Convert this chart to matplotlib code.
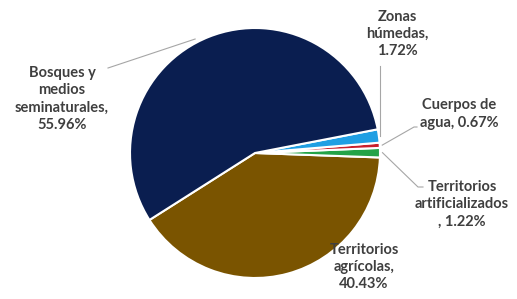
import numpy as np
import matplotlib
matplotlib.use("Agg")
import matplotlib.pyplot as plt

# datos (orden de dibujo, antihorario desde el borde inferior izquierdo)
labels = ["Territorios\nagrícolas,\n40.43%",
          "Territorios\nartificializados\n, 1.22%",
          "Cuerpos de\nagua, 0.67%",
          "Zonas\nhúmedas,\n1.72%",
          "Bosques y\nmedios\nseminaturales,\n55.96%"]
values = [40.43, 1.22, 0.67, 1.72, 55.96]
colors = ["#7a5400", "#23a347", "#c8202c", "#1f9fe3", "#0a1e50"]

W, H = 517, 299
fig = plt.figure(figsize=(W / 100, H / 100), dpi=100)
ax = fig.add_axes([0, 0, 1, 1])

cx, cy, r = 255, H - 153, 125
wedges, _ = ax.pie(values, colors=colors, startangle=212.4, counterclock=True,
                   center=(cx, cy), radius=r,
                   wedgeprops=dict(edgecolor="white", linewidth=1.5))
ax.set_xlim(0, W)
ax.set_ylim(0, H)
ax.set_aspect("equal")
ax.axis("off")

txt = dict(ha="center", va="center", fontsize=10.5, fontweight="bold",
           color="#3f3f3f", family=["Lato", "DejaVu Sans"], linespacing=1.3)
lead = dict(color="#a6a6a6", lw=0.8)


def edge(w, k=1.0, frac=0.5):
    a = np.deg2rad(w.theta1 + frac * (w.theta2 - w.theta1))
    return cx + k * r * np.cos(a), cy + k * r * np.sin(a)


# posiciones de las etiquetas (en pixeles de la imagen)
pos = [(364, 267), (462, 204), (459, 114), (397, 34), (62, 99)]
for w, lab, (x, y) in zip(wedges, labels, pos):
    ax.text(x, H - y, lab, **txt)

# lineas guia
ex, ey = edge(wedges[4], 1.03, 0.53)
ax.plot([108, ex], [H - 68, ey], **lead)
ex, ey = edge(wedges[3], 1.01)
ax.plot([ex, ex], [H - 66, ey], **lead)
ex, ey = edge(wedges[2], 1.02)
ax.plot([ex, 414, 417], [ey, H - 127, H - 127], **lead)
ex, ey = edge(wedges[1], 1.02)
ax.plot([ex, 418, 423], [ey, H - 187, H - 187], **lead)

fig.savefig("out.png", dpi=100)
